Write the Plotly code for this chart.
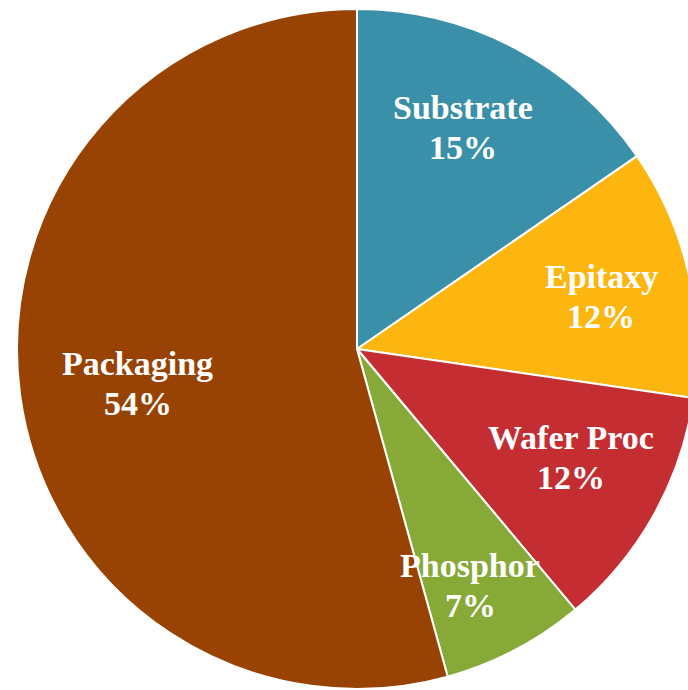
import numpy as np
import plotly.graph_objects as go

categories = ["Substrate", "Epitaxy", "Wafer Proc", "Phosphor", "Packaging"]
values = [15.4, 11.9, 11.6, 6.8, 54.3]
pct_labels = ["15%", "12%", "12%", "7%", "54%"]
colors = ["#3A90A8", "#FDB50F", "#C42D31", "#86A937", "#984303"]

# layout geometry (pixels)
W, H = 714, 698
CX, CY, R = 357, 349, 340
label_r = [0.721, 0.734, 0.706, 0.772, 0.652]
label_dang = [-2.1, 1.1, -2.2, 2.2, -1.1]

fig = go.Figure(go.Pie(
    labels=categories, values=values, sort=False, direction="clockwise", rotation=0,
    marker=dict(colors=colors, line=dict(color="white", width=2)),
    textinfo="none", hoverinfo="label+percent", showlegend=False,
    domain=dict(x=[(CX - R) / W, (CX + R) / W], y=[(H - CY - R) / H, (H - CY + R) / H]),
))

vals = np.array(values, dtype=float)
cum = np.cumsum(vals) / vals.sum() * 360.0
mids = cum - vals / vals.sum() * 180.0
annotations = []
font = dict(family="Liberation Serif", size=34, color="white")
for name, pct, ang, rf, da in zip(categories, pct_labels, mids, label_r, label_dang):
    a = np.deg2rad(ang + da)
    px = CX + rf * R * np.sin(a)
    py = CY - rf * R * np.cos(a)
    xp, yp = px / W, 1 - py / H
    annotations.append(dict(x=xp, y=yp, xref="paper", yref="paper", text=f"<b>{name}</b>",
                            showarrow=False, font=font, yshift=20, xanchor="center", yanchor="middle"))
    annotations.append(dict(x=xp, y=yp, xref="paper", yref="paper", text=f"<b>{pct}</b>",
                            showarrow=False, font=font, yshift=-20, xanchor="center", yanchor="middle"))

fig.update_layout(width=W, height=H, margin=dict(l=0, r=0, t=0, b=0),
                  paper_bgcolor="white", plot_bgcolor="white", annotations=annotations)

fig.write_html("out.html", post_script="document.body.style.margin='0';document.body.style.overflow='hidden';document.documentElement.style.overflow='hidden';")
